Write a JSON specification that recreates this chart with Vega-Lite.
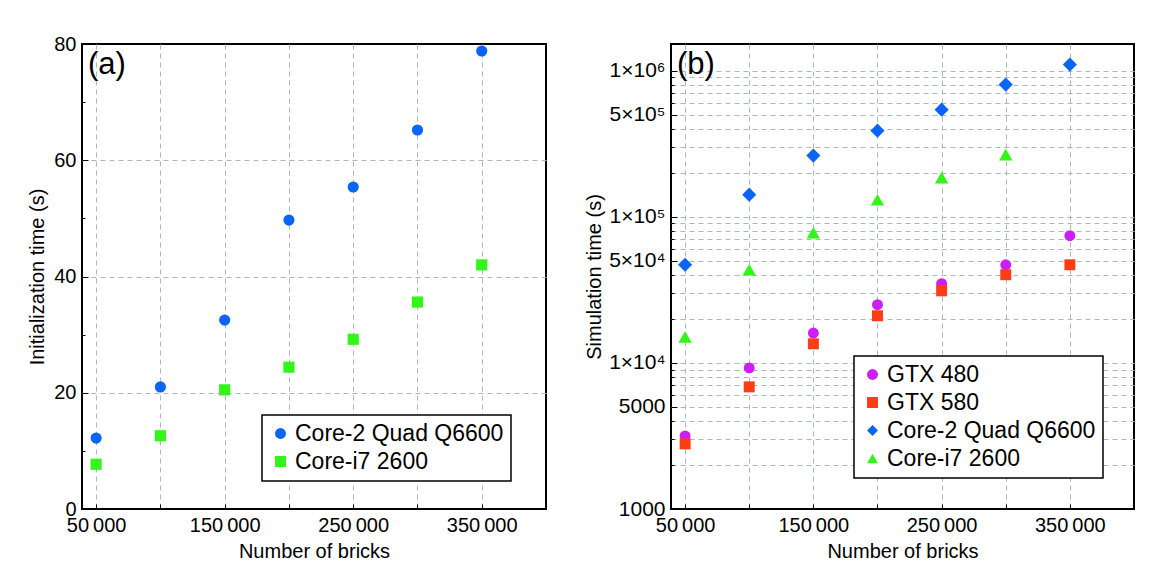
{
  "$schema": "https://vega.github.io/schema/vega-lite/v6.json",
  "background": "white",
  "padding": {"left": 26, "top": 33, "right": 0, "bottom": 0},
  "autosize": {"type": "pad"},
  "config": {
    "font": "Liberation Sans",
    "view": {"stroke": "black", "strokeWidth": 2},
    "axis": {
      "labelFont": "Liberation Sans",
      "titleFont": "Liberation Sans",
      "labelFontSize": 20,
      "titleFontSize": 20,
      "titleFontWeight": "normal",
      "labelColor": "black",
      "titleColor": "black",
      "domain": false,
      "tickColor": "black",
      "gridColor": "#a9b8b8",
      "gridDash": [5, 4],
      "gridWidth": 1
    },
    "legend": {
      "labelFont": "Liberation Sans",
      "labelFontSize": 23,
      "labelColor": "black",
      "labelLimit": 0,
      "labelOffset": 3,
      "strokeColor": "black",
      "strokeWidth": 1.5,
      "fillColor": "white",
      "padding": 7,
      "rowPadding": 4,
      "symbolSize": 120,
      "symbolStrokeWidth": 0
    }
  },
  "resolve": {"scale": {"color": "independent", "shape": "independent"}, "legend": {"color": "independent", "shape": "independent"}},
  "spacing": 36,
  "hconcat": [
    {
      "width": 464,
      "height": 465,
      "layer": [
        {
          "data": {"values": [
            {"bricks": 50000, "time": 12.2, "cpu": "Core-2 Quad Q6600"},
            {"bricks": 100000, "time": 21.0, "cpu": "Core-2 Quad Q6600"},
            {"bricks": 150000, "time": 32.5, "cpu": "Core-2 Quad Q6600"},
            {"bricks": 200000, "time": 49.7, "cpu": "Core-2 Quad Q6600"},
            {"bricks": 250000, "time": 55.4, "cpu": "Core-2 Quad Q6600"},
            {"bricks": 300000, "time": 65.2, "cpu": "Core-2 Quad Q6600"},
            {"bricks": 350000, "time": 78.8, "cpu": "Core-2 Quad Q6600"},
            {"bricks": 50000, "time": 7.7, "cpu": "Core-i7 2600"},
            {"bricks": 100000, "time": 12.6, "cpu": "Core-i7 2600"},
            {"bricks": 150000, "time": 20.5, "cpu": "Core-i7 2600"},
            {"bricks": 200000, "time": 24.4, "cpu": "Core-i7 2600"},
            {"bricks": 250000, "time": 29.2, "cpu": "Core-i7 2600"},
            {"bricks": 300000, "time": 35.6, "cpu": "Core-i7 2600"},
            {"bricks": 350000, "time": 42.0, "cpu": "Core-i7 2600"}
          ]},
          "mark": {"type": "point", "filled": true, "opacity": 1, "size": 125},
          "encoding": {
            "x": {
              "field": "bricks", "type": "quantitative",
              "scale": {"domain": [39000, 400000], "nice": false, "zero": false},
              "axis": {
                "title": "Number of bricks",
                "values": [50000, 100000, 150000, 200000, 250000, 300000, 350000],
                "labelExpr": "datum.value % 100000 == 50000 ? replace(format(datum.value, ','), ',', '\u2009') : ''",
                "tickSize": -5,
                "labelPadding": 11,
                "titlePadding": 6,
                "labelFlush": false
              }
            },
            "y": {
              "field": "time", "type": "quantitative",
              "scale": {"domain": [0, 80], "nice": false},
              "axis": {
                "title": "Initialization time (s)",
                "values": [0, 5, 10, 15, 20, 25, 30, 35, 40, 45, 50, 55, 60, 65, 70, 75, 80],
                "labelExpr": "datum.value % 20 == 0 ? datum.label : ''",
                "gridOpacity": {"condition": {"test": "datum.value % 20 == 0 && datum.value > 0 && datum.value < 80", "value": 1}, "value": 0},
                "tickSize": {"condition": {"test": "datum.value % 20 == 0", "value": -6}, "value": -3},
                "labelPadding": 12,
                "titlePadding": 6,
                "labelFlush": false
              }
            },
            "color": {
              "field": "cpu", "type": "nominal",
              "scale": {"domain": ["Core-2 Quad Q6600", "Core-i7 2600"], "range": ["#0a64f5", "#33f51a"]},
              "legend": {"title": null, "orient": "none", "legendX": 180, "legendY": 371}
            },
            "shape": {
              "field": "cpu", "type": "nominal",
              "scale": {"domain": ["Core-2 Quad Q6600", "Core-i7 2600"], "range": ["circle", "square"]},
              "legend": {"title": null, "orient": "none", "legendX": 180, "legendY": 371}
            }
          }
        },
        {
          "data": {"values": [{"tag": "(a)"}]},
          "mark": {"type": "text", "align": "left", "baseline": "top", "fontSize": 31, "font": "Liberation Sans", "dx": 6, "dy": 6, "color": "black"},
          "encoding": {
            "x": {"datum": 39000, "type": "quantitative"},
            "y": {"datum": 80, "type": "quantitative"},
            "text": {"field": "tag"}
          }
        }
      ]
    },
    {
      "width": 463,
      "height": 465,
      "layer": [
        {
          "data": {"values": [
            {"bricks": 50000, "time": 3160, "device": "GTX 480"},
            {"bricks": 100000, "time": 9240, "device": "GTX 480"},
            {"bricks": 150000, "time": 16000, "device": "GTX 480"},
            {"bricks": 200000, "time": 25000, "device": "GTX 480"},
            {"bricks": 250000, "time": 34800, "device": "GTX 480"},
            {"bricks": 300000, "time": 46900, "device": "GTX 480"},
            {"bricks": 350000, "time": 74100, "device": "GTX 480"},
            {"bricks": 50000, "time": 2790, "device": "GTX 580"},
            {"bricks": 100000, "time": 6850, "device": "GTX 580"},
            {"bricks": 150000, "time": 13500, "device": "GTX 580"},
            {"bricks": 200000, "time": 21000, "device": "GTX 580"},
            {"bricks": 250000, "time": 31100, "device": "GTX 580"},
            {"bricks": 300000, "time": 40100, "device": "GTX 580"},
            {"bricks": 350000, "time": 46900, "device": "GTX 580"},
            {"bricks": 50000, "time": 46900, "device": "Core-2 Quad Q6600"},
            {"bricks": 100000, "time": 141500, "device": "Core-2 Quad Q6600"},
            {"bricks": 150000, "time": 262000, "device": "Core-2 Quad Q6600"},
            {"bricks": 200000, "time": 388000, "device": "Core-2 Quad Q6600"},
            {"bricks": 250000, "time": 540000, "device": "Core-2 Quad Q6600"},
            {"bricks": 300000, "time": 802000, "device": "Core-2 Quad Q6600"},
            {"bricks": 350000, "time": 1099000, "device": "Core-2 Quad Q6600"},
            {"bricks": 50000, "time": 15070, "device": "Core-i7 2600"},
            {"bricks": 100000, "time": 43400, "device": "Core-i7 2600"},
            {"bricks": 150000, "time": 77700, "device": "Core-i7 2600"},
            {"bricks": 200000, "time": 130700, "device": "Core-i7 2600"},
            {"bricks": 250000, "time": 185000, "device": "Core-i7 2600"},
            {"bricks": 300000, "time": 266000, "device": "Core-i7 2600"}
          ]},
          "encoding": {
            "x": {
              "field": "bricks", "type": "quantitative",
              "scale": {"domain": [39000, 400000], "nice": false, "zero": false},
              "axis": {
                "title": "Number of bricks",
                "values": [50000, 100000, 150000, 200000, 250000, 300000, 350000],
                "labelExpr": "datum.value % 100000 == 50000 ? replace(format(datum.value, ','), ',', '\u2009') : ''",
                "tickSize": -5,
                "labelPadding": 11,
                "titlePadding": 6,
                "labelFlush": false
              }
            },
            "y": {
              "field": "time", "type": "quantitative",
              "scale": {"type": "log", "domain": [1000, 1520000], "nice": false},
              "axis": {
                "title": "Simulation time (s)",
                "labelFontSize": 21,
                "values": [1000, 2000, 3000, 4000, 5000, 6000, 7000, 8000, 9000, 10000, 20000, 30000, 40000, 50000, 60000, 70000, 80000, 90000, 100000, 200000, 300000, 400000, 500000, 600000, 700000, 800000, 900000, 1000000],
                "labelExpr": "datum.value == 1000 ? '1000' : datum.value == 5000 ? '5000' : datum.value == 10000 ? '1×10⁴' : datum.value == 50000 ? '5×10⁴' : datum.value == 100000 ? '1×10⁵' : datum.value == 500000 ? '5×10⁵' : datum.value == 1000000 ? '1×10⁶' : ''",
                "gridOpacity": {"condition": {"test": "datum.value > 1000", "value": 1}, "value": 0},
                "tickSize": {"condition": {"test": "datum.value == 1000 || datum.value == 5000 || datum.value == 10000 || datum.value == 50000 || datum.value == 100000 || datum.value == 500000 || datum.value == 1000000", "value": -6}, "value": -3},
                "labelPadding": 12,
                "titlePadding": 4,
                "labelFlush": false
              }
            },
            "color": {
              "field": "device", "type": "nominal",
              "scale": {"domain": ["GTX 480", "GTX 580", "Core-2 Quad Q6600", "Core-i7 2600"], "range": ["#cc1ef5", "#ff3d14", "#0a64f5", "#33f51a"]},
              "legend": {"title": null, "orient": "none", "legendX": 183, "legendY": 312}
            },
            "shape": {
              "field": "device", "type": "nominal",
              "scale": {"domain": ["GTX 480", "GTX 580", "Core-2 Quad Q6600", "Core-i7 2600"], "range": ["circle", "square", "diamond", "triangle-up"]},
              "legend": {"title": null, "orient": "none", "legendX": 183, "legendY": 312}
            }
          },
          "layer": [
            {
              "transform": [{"filter": "datum.device == 'GTX 480' || datum.device == 'GTX 580'"}],
              "mark": {"type": "point", "filled": true, "opacity": 1, "size": 120}
            },
            {
              "transform": [{"filter": "datum.device == 'Core-2 Quad Q6600'"}],
              "mark": {"type": "point", "filled": true, "opacity": 1, "size": 200}
            },
            {
              "transform": [{"filter": "datum.device == 'Core-i7 2600'"}],
              "mark": {"type": "point", "filled": true, "opacity": 1, "size": 180}
            }
          ]
        },
        {
          "data": {"values": [{"tag": "(b)"}]},
          "mark": {"type": "text", "align": "left", "baseline": "top", "fontSize": 31, "font": "Liberation Sans", "dx": 6, "dy": 6, "color": "black"},
          "encoding": {
            "x": {"datum": 39000, "type": "quantitative"},
            "y": {"datum": 1520000, "type": "quantitative"},
            "text": {"field": "tag"}
          }
        }
      ]
    }
  ]
}
